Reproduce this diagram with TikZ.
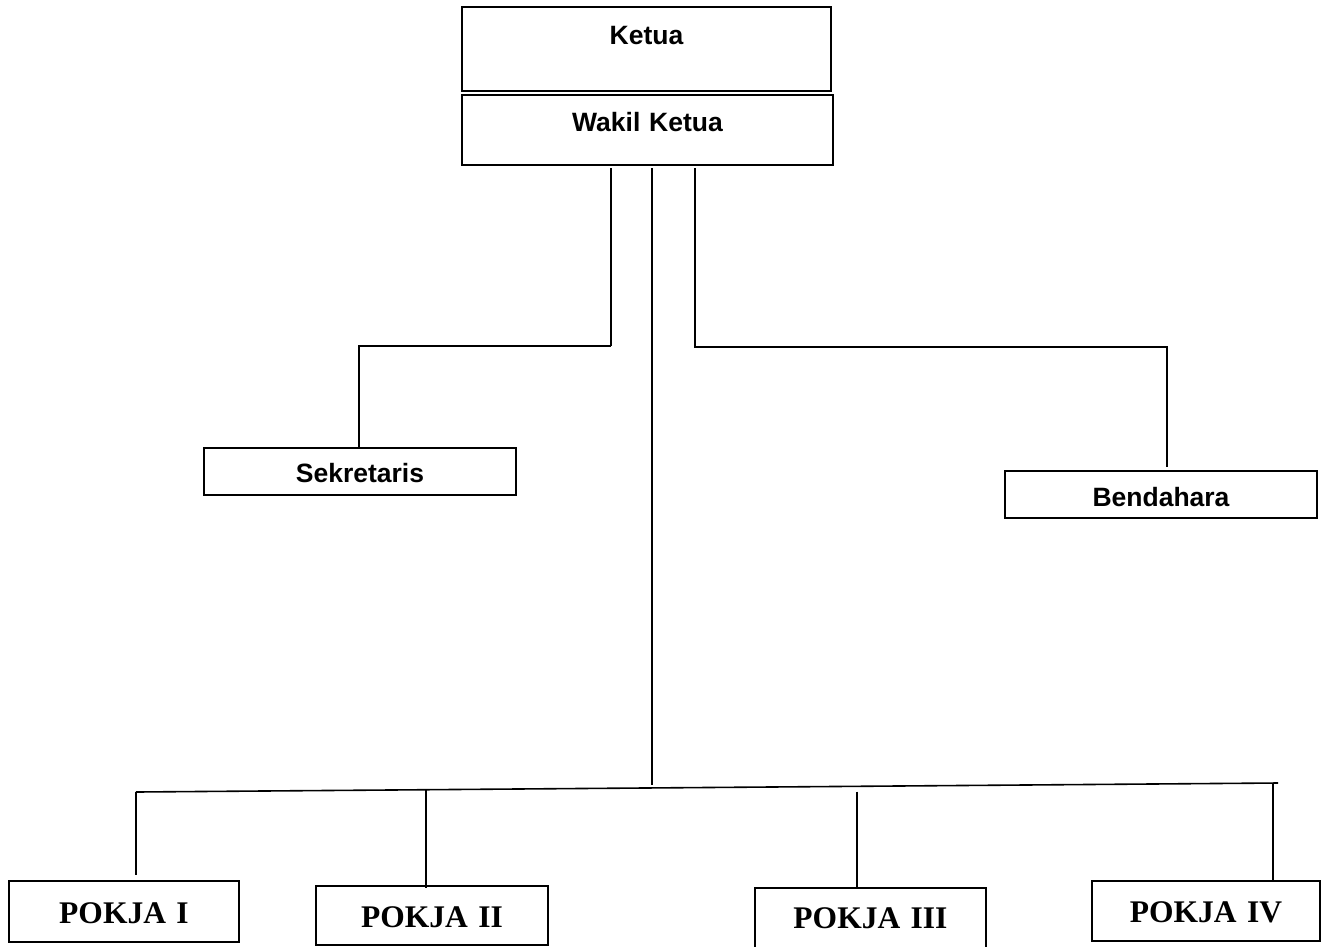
\documentclass[tikz,border=0pt]{standalone}
\usepackage{fontspec}
\setmainfont{Liberation Serif}
\newfontfamily\arialfont{Liberation Sans}
\begin{document}
\begin{tikzpicture}[x=1pt,y=-1pt,
  line width=1.6pt,
  sbox/.style={draw, inner sep=0pt, align=center, anchor=north,
    font=\arialfont\bfseries\fontsize{26.5}{30}\selectfont},
  pbox/.style={draw, inner sep=0pt, align=center, anchor=north,
    font=\rmfamily\bfseries\fontsize{31.5}{36}\selectfont},
  conn/.style={draw, line width=1.6pt}]
\clip (0,0) rectangle (1328,946);
\useasboundingbox (0,0) rectangle (1328,946);
% boxes
\node[sbox, text width=369pt, text height=38pt, text depth=46pt] (ketua) at (646.5,6) {Ketua};
\node[sbox, text width=371pt, text height=37pt, text depth=33pt] (wakil) at (647.5,94) {Wakil Ketua};
\node[sbox, text width=312pt, text height=34.5pt, text depth=12.5pt] (sek) at (360,447) {Sekretaris};
\node[sbox, text width=312pt, text height=35.5pt, text depth=11.5pt] (bend) at (1161,470) {Bendahara};
\node[pbox, text width=230pt, text height=42.5pt, text depth=18.5pt] (p1) at (124,880) {POKJA I};
\node[pbox, text width=232pt, text height=41.5pt, text depth=17.5pt] (p2) at (432,885) {POKJA II};
\node[pbox, text width=231pt, text height=40.5pt, text depth=25pt] (p3) at (870.5,887) {POKJA III};
\node[pbox, text width=228pt, text height=41.5pt, text depth=18.5pt] (p4) at (1206,880) {POKJA IV};
% coordinates
\coordinate (w1) at (611,168);
\coordinate (w2) at (652,168);
\coordinate (w3) at (695,168);
\coordinate (s1) at (611,346);
\coordinate (s2) at (359,346);
\coordinate (b1) at (695,347);
\coordinate (b2) at (1167,347);
\coordinate (b3) at (1167,467);
\coordinate (c1) at (652,785);
\coordinate (bl) at (136,792);
\coordinate (br) at (1278,783);
\coordinate (q1) at (136,875);
\coordinate (t2) at (426,789.7);
\coordinate (t3) at (857,791.7);
\coordinate (t4) at (1273,783);
% connectors
\draw[conn] (w1) -- (s1);
\draw[conn] (s1) -- (s2) -- (s2 |- sek.north);
\draw[conn] (w3) -- (b1) -- (b2) -- (b3);
\draw[conn] (w2) -- (c1);
\draw[conn] (bl) -- (br);
\draw[conn] (bl) -- (q1);
\draw[conn] (t2) -- ([yshift=-3pt]t2 |- p2.north);
\draw[conn] (t3) -- (t3 |- p3.north);
\draw[conn] (t4) -- (t4 |- p4.north);
\end{tikzpicture}
\end{document}
